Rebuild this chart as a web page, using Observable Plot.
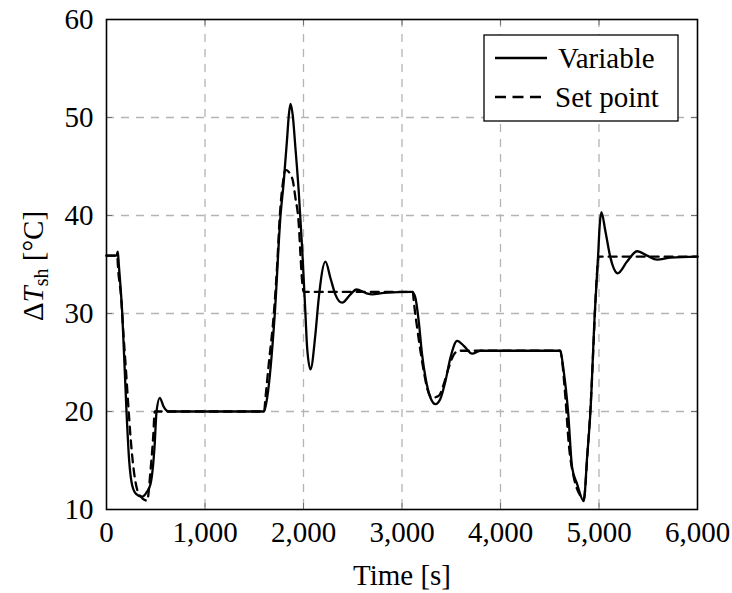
<!DOCTYPE html>
<html>
<head>
<meta charset="utf-8">
<script src="https://cdn.jsdelivr.net/npm/d3@7"></script>
<script src="https://cdn.jsdelivr.net/npm/@observablehq/plot@0.6"></script>
<style>
  html, body { margin: 0; padding: 0; background: #fff; }
  svg { display: block; }
</style>
</head>
<body>
<div id="chart"></div>
<script>
// ---- data ----
const xTicks = [0, 1000, 2000, 3000, 4000, 5000, 6000];
const yTicks = [10, 20, 30, 40, 50, 60];
const seriesNames = ["Variable", "Set point"];

const variableTime = [0, 100, 115, 125, 160, 203, 230, 260, 300, 362, 410, 447, 487, 508, 541, 580, 630,
  1600, 1631, 1708, 1766, 1800, 1834, 1851, 1868, 1890, 1918, 1952, 1986, 2020, 2037, 2071, 2121, 2155,
  2223, 2274, 2325, 2392, 2477, 2538, 2629, 2697, 2815, 3103, 3136, 3170, 3204, 3238, 3289, 3340, 3390,
  3441, 3492, 3560, 3627, 3712, 3796, 4605, 4642, 4686, 4727, 4778, 4845, 4879, 4913, 4957, 4991, 5007,
  5024, 5065, 5116, 5190, 5285, 5387, 5488, 5590, 5725, 6000];
const variableValue = [35.9, 35.9, 36.3, 35.0, 30, 20, 15, 12.5, 11.6, 11.3, 11.8, 12.6, 16.3, 20, 21.4, 20.5, 20,
  20, 21.4, 29.9, 39.9, 43.5, 47.9, 50.25, 51.4, 50.3, 46.9, 42.4, 36.7, 29.9, 26.5, 24.3, 27.9, 31.6,
  35.3, 33.6, 31.9, 31.1, 31.95, 32.45, 32.1, 31.95, 32.1, 32.2, 31.6, 29.2, 25.8, 23.5, 21.4, 20.75, 21.3,
  23.1, 25.5, 27.2, 26.7, 25.9, 26.2, 26.2, 24.1, 20, 14.3, 12.6, 10.85, 15.3, 20, 30, 35.9, 39,
  40.35, 38.4, 35.7, 34.1, 35.3, 36.35, 35.9, 35.5, 35.7, 35.8];

const setPointTime = [0, 110, 115, 149, 170, 193, 220, 244, 277, 328, 413, 447, 474, 490,
  1600, 1614, 1647, 1698, 1733, 1759, 1793, 1817, 1885, 1918, 1952, 1969, 1986, 2003,
  3110, 3119, 3153, 3187, 3221, 3255, 3306, 3373, 3424, 3475, 3526, 3577,
  4609, 4625, 4659, 4693, 4744, 4812, 4845, 4885, 4923, 4946, 4973, 4997, 6000];
const setPointValue = [35.9, 35.9, 35, 31.6, 28.2, 24.9, 20.8, 17.4, 14, 11.6, 10.9, 14, 17.4, 20,
  20, 21.4, 24.8, 29.9, 35, 39.9, 43.5, 44.66, 43.8, 41.8, 39.1, 36, 33.3, 32.2,
  32.2, 31.3, 28.6, 26.2, 24.1, 22.4, 21.4, 21.6, 22.8, 24.5, 25.8, 26.2,
  26.2, 25.2, 21.4, 16.7, 13.3, 11.4, 11.1, 16, 22.1, 27.2, 33, 35.8, 35.8];

// ---- build tables ----
const variableData = variableTime.map((t, i) => ({t, v: variableValue[i]}));
const setPointData = setPointTime.map((t, i) => ({t, v: setPointValue[i]}));

const W = 732, H = 593;
const mL = 106, mR = 35, mT = 19, mB = 84;
const plotW = W - mL - mR, plotH = H - mT - mB;
const FONT = "'Liberation Serif', 'Times New Roman', serif";
const innerX = xTicks.slice(1, -1), innerY = yTicks.slice(1, -1);

const chart = Plot.plot({
  width: W, height: H,
  marginLeft: mL, marginRight: mR, marginTop: mT, marginBottom: mB,
  style: {fontFamily: FONT, fontSize: "29px", color: "#000", background: "#fff"},
  x: {domain: [0, 6000]},
  y: {domain: [10, 60]},
  marks: [
    Plot.gridX(innerX, {stroke: "#b4b4b4", strokeOpacity: 1, strokeWidth: 1.3, strokeDasharray: "8,7"}),
    Plot.gridY(innerY, {stroke: "#b4b4b4", strokeOpacity: 1, strokeWidth: 1.3, strokeDasharray: "8,7"}),
    // inner tick marks on all four sides
    Plot.tickX(innerX, {x: d => d, insetTop: plotH - 6, stroke: "#707070", strokeWidth: 1}),
    Plot.tickX(innerX, {x: d => d, insetBottom: plotH - 6, stroke: "#707070", strokeWidth: 1}),
    Plot.tickY(innerY, {y: d => d, insetRight: plotW - 6, stroke: "#707070", strokeWidth: 1}),
    Plot.tickY(innerY, {y: d => d, insetLeft: plotW - 6, stroke: "#707070", strokeWidth: 1}),
    Plot.axisX(xTicks, {tickSize: 0, tickPadding: 12, tickFormat: d3.format(","), label: null, fontSize: 29}),
    Plot.axisY(yTicks, {tickSize: 0, tickPadding: 13, label: null, fontSize: 29}),
    Plot.line(variableData, {x: "t", y: "v", curve: "monotone-x", stroke: "#000", strokeWidth: 2.3}),
    Plot.line(setPointData, {x: "t", y: "v", curve: "monotone-x", stroke: "#000", strokeWidth: 2.3, strokeDasharray: "8,6"}),
    Plot.frame({stroke: "#000", strokeWidth: 1.6}),
    Plot.text(["Time [s]"], {frameAnchor: "bottom", dy: 75, fontSize: 29, fill: "#000"})
  ]
});
document.getElementById("chart").appendChild(chart);

// ---- y label with subscript & legend ----
const svg = d3.select(chart);
const yl = svg.append("text")
  .attr("transform", `translate(43, ${mT + plotH / 2 + 2}) rotate(-90)`)
  .attr("text-anchor", "middle")
  .attr("font-family", FONT)
  .attr("font-size", 29)
  .attr("fill", "#000");
yl.append("tspan").text("Δ");
yl.append("tspan").attr("font-style", "italic").text("T");
yl.append("tspan").attr("font-size", 20).attr("dy", 5).text("sh");
yl.append("tspan").attr("dy", -5).text(" [°C]");

const lg = svg.append("g").attr("font-family", FONT).attr("font-size", 29).attr("fill", "#000");
lg.append("rect").attr("x", 484).attr("y", 35).attr("width", 194).attr("height", 86)
  .attr("fill", "#fff").attr("stroke", "#000").attr("stroke-width", 1.3);
seriesNames.forEach((name, i) => {
  const cy = 58 + i * 39;
  lg.append("line").attr("x1", 495).attr("x2", 547).attr("y1", cy).attr("y2", cy)
    .attr("stroke", "#000").attr("stroke-width", 2.3)
    .attr("stroke-dasharray", i === 1 ? "11,6.5" : null);
  lg.append("text").attr("text-anchor", "start")
    .attr("x", i === 0 ? 558 : 555).attr("y", cy + 9.5).text(name);
});
</script>
</body>
</html>
